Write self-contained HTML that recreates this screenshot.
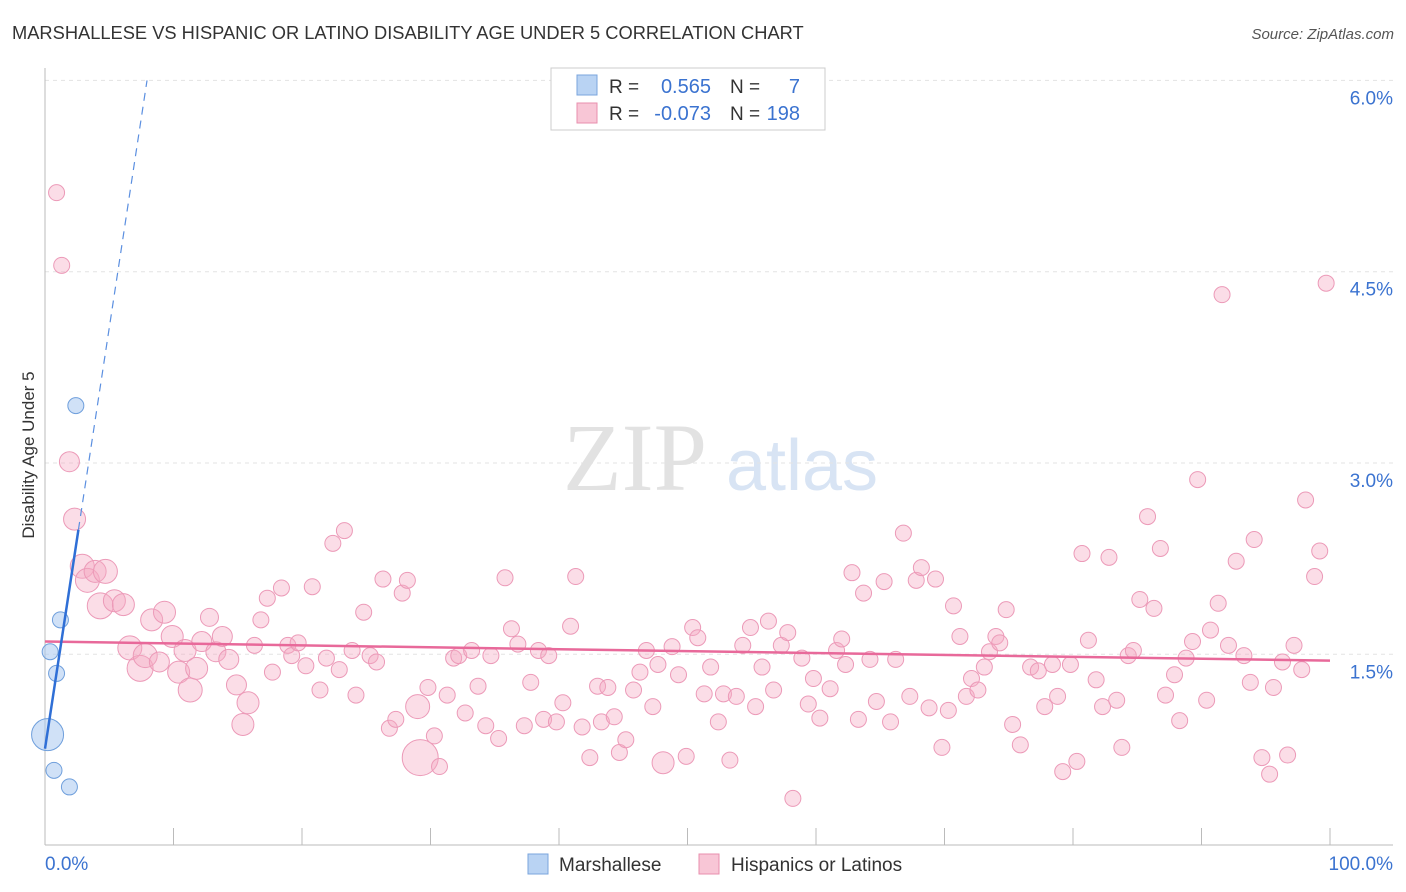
<!DOCTYPE html>
<html><head><meta charset="utf-8"><style>
body{margin:0;background:#fff;width:1406px;height:892px;overflow:hidden;font-family:"Liberation Sans",sans-serif;}
svg{display:block}
</style></head><body>
<svg id="chart" width="1406" height="892">
<text x="12" y="39" font-size="18.3" fill="#333">MARSHALLESE VS HISPANIC OR LATINO DISABILITY AGE UNDER 5 CORRELATION CHART</text>
<text x="1394" y="39" font-size="15" fill="#555" font-style="italic" text-anchor="end">Source: ZipAtlas.com</text>
<g>
<text x="635" y="490" font-family="Liberation Serif" font-size="96" fill="#e2e2e2" text-anchor="middle">ZIP</text>
<text x="802" y="490" font-size="72" fill="#d8e4f4" text-anchor="middle">atlas</text>
</g>
<g id="grid"></g>
<g id="axes"></g>
<g id="marks"></g>
<text transform="translate(34,455) rotate(-90)" font-size="17" fill="#333" text-anchor="middle">Disability Age Under 5</text>
<g>
<rect x="551" y="68" width="274" height="62" fill="#fff" stroke="#ccc"/>
<rect x="577" y="75" width="20" height="20" fill="#b9d3f3" stroke="#7aa5dd"/>
<rect x="577" y="103" width="20" height="20" fill="#f8c6d6" stroke="#e88fae"/>
<text x="609" y="93" font-size="19" fill="#333">R =</text><text x="711" y="93" font-size="20" fill="#3b73d0" text-anchor="end">0.565</text>
<text x="730" y="93" font-size="19" fill="#333">N =</text><text x="800" y="93" font-size="20" fill="#3b73d0" text-anchor="end">7</text>
<text x="609" y="120" font-size="19" fill="#333">R =</text><text x="711" y="120" font-size="20" fill="#3b73d0" text-anchor="end">-0.073</text>
<text x="730" y="120" font-size="19" fill="#333">N =</text><text x="800" y="120" font-size="20" fill="#3b73d0" text-anchor="end">198</text>
</g>
<g>
<rect x="528" y="854" width="20" height="20" fill="#b9d3f3" stroke="#7aa5dd"/>
<text x="559" y="871" font-size="19" fill="#333">Marshallese</text>
<rect x="699" y="854" width="20" height="20" fill="#f8c6d6" stroke="#e88fae"/>
<text x="731" y="871" font-size="19" fill="#333">Hispanics or Latinos</text>
</g>
</svg>
<script>
const yTicks=[1.5,3.0,4.5,6.0];
const yTickLabels=["1.5%","3.0%","4.5%","6.0%"];
const xTickLabels=["0.0%","100.0%"];
const blueX=[0.2,0.4,0.9,1.2,2.4,0.7,1.9];
const blueY=[0.87,1.52,1.35,1.77,3.45,0.59,0.46];
const blueR=[16,8,8,8,8,8,8];
const pinkX=[0.9,1.3,1.9,2.3,2.9,3.3,3.9,4.7,4.3,5.4,6.1,6.6,7.4,7.8,8.3,8.9,9.3,9.9,10.4,10.9,11.3,11.8,12.2,12.8,13.3,13.8,14.3,14.9,15.4,15.8,16.3,16.8,17.3,17.7,18.4,18.9,19.2,19.7,20.3,20.8,21.4,21.9,22.4,22.9,23.3,23.9,24.2,24.8,25.3,25.8,26.3,26.8,27.3,27.8,28.2,29.0,29.2,29.8,30.3,30.7,31.3,31.8,32.2,32.7,33.2,33.7,34.3,34.7,35.3,35.8,36.3,36.8,37.3,37.8,38.4,38.8,39.2,39.8,40.3,40.9,41.3,41.8,42.4,43.0,43.3,43.8,44.3,44.7,45.2,45.8,46.3,46.8,47.3,47.7,48.1,48.8,49.3,49.9,50.4,50.8,51.3,51.8,52.4,52.8,53.3,53.8,54.3,54.9,55.3,55.8,56.3,56.7,57.3,57.8,58.2,58.9,59.4,59.8,60.3,61.1,61.6,62.0,62.3,62.8,63.3,63.7,64.2,64.7,65.3,65.8,66.2,66.8,67.3,67.8,68.2,68.8,69.3,69.8,70.3,70.7,71.2,71.7,72.1,72.6,73.1,73.5,74.0,74.3,74.8,75.3,75.9,76.7,77.3,77.8,78.4,78.8,79.2,79.8,80.3,80.7,81.2,81.8,82.3,82.8,83.4,83.8,84.3,84.7,85.2,85.8,86.3,86.8,87.2,87.9,88.3,88.8,89.3,89.7,90.4,90.7,91.3,91.6,92.1,92.7,93.3,93.8,94.1,94.7,95.3,95.6,96.3,96.7,97.2,97.8,98.1,98.8,99.2,99.7];
const pinkY=[5.12,4.55,3.01,2.56,2.19,2.08,2.15,2.15,1.88,1.92,1.89,1.55,1.39,1.49,1.77,1.44,1.83,1.64,1.36,1.53,1.22,1.39,1.60,1.79,1.52,1.64,1.46,1.26,0.95,1.12,1.57,1.77,1.94,1.36,2.02,1.57,1.49,1.59,1.41,2.03,1.22,1.47,2.37,1.38,2.47,1.53,1.18,1.83,1.49,1.44,2.09,0.92,0.99,1.98,2.08,1.09,0.69,1.24,0.86,0.62,1.18,1.47,1.49,1.04,1.53,1.25,0.94,1.49,0.84,2.10,1.70,1.58,0.94,1.28,1.53,0.99,1.49,0.97,1.12,1.72,2.11,0.93,0.69,1.25,0.97,1.24,1.01,0.73,0.83,1.22,1.36,1.53,1.09,1.42,0.65,1.56,1.34,0.70,1.71,1.63,1.19,1.40,0.97,1.19,0.67,1.17,1.57,1.71,1.09,1.40,1.76,1.22,1.57,1.67,0.37,1.47,1.11,1.31,1.00,1.23,1.53,1.62,1.42,2.14,0.99,1.98,1.46,1.13,2.07,0.97,1.46,2.45,1.17,2.08,2.18,1.08,2.09,0.77,1.06,1.88,1.64,1.17,1.31,1.22,1.40,1.52,1.64,1.59,1.85,0.95,0.79,1.40,1.37,1.09,1.42,1.17,0.58,1.42,0.66,2.29,1.61,1.30,1.09,2.26,1.14,0.77,1.49,1.53,1.93,2.58,1.86,2.33,1.18,1.34,0.98,1.47,1.60,2.87,1.14,1.69,1.90,4.32,1.57,2.23,1.49,1.28,2.40,0.69,0.56,1.24,1.44,0.71,1.57,1.38,2.71,2.11,2.31,4.41];
const pinkBigR=[8,8,10,11,12,12,11,12,13,11,11,12,13,12,11,10,11,11,11,11,12,11,10,9,10,10,10,10,11,11];
const pinkLargeIdx=[55,56,94];
const pinkLargeR=[12,18,11];
const pinkTrend=[1.60,1.45];
const blueTrend=[0.76,0.66];
const NS='http://www.w3.org/2000/svg';
const X0=45,X1=1330,Y0=845.6,YS=127.53;
const sx=v=>X0+(X1-X0)*v/100;
const sy=v=>Y0-v*YS;
function mk(tag,attrs,parent){const e=document.createElementNS(NS,tag);for(const k in attrs)e.setAttribute(k,attrs[k]);parent.appendChild(e);return e;}
const grid=document.getElementById('grid'),axes=document.getElementById('axes'),marks=document.getElementById('marks');
yTicks.forEach((t,i)=>{
 const l=mk('line',{x1:45,x2:1393,y1:sy(t),y2:sy(t),stroke:'#e3e3e3','stroke-dasharray':'4,4'},grid);
 
 
 const tx=mk('text',{x:1393,y:sy(t)+24,'font-size':19,fill:'#3b73d0','text-anchor':'end'},grid);
 tx.textContent=yTickLabels[i];
 
 
});
const ya=mk('line',{x1:45,x2:45,y1:68,y2:845,stroke:'#bbb'},axes);


const xa=mk('line',{x1:45,x2:1393,y1:845,y2:845,stroke:'#bbb'},axes);


for(let k=0;k<=10;k++){
 const tk=mk('line',{x1:sx(k*10),x2:sx(k*10),y1:828,y2:845,stroke:'#bbb'},axes);
 
 
}
[[0,'start',45],[100,'end',1393]].forEach((d,i)=>{
 const t=mk('text',{x:d[2],y:870,'font-size':19,fill:'#3b73d0','text-anchor':d[1]},axes);
 t.textContent=xTickLabels[i];
 
 
});
pinkX.forEach((x,i)=>{
 let r=i<pinkBigR.length?pinkBigR[i]:8;
 const li=pinkLargeIdx.indexOf(i);
 if(li>=0) r=pinkLargeR[li];
 const c=mk('circle',{cx:sx(x),cy:sy(pinkY[i]),r:r,fill:'rgba(246,170,196,0.4)',stroke:'#ec9ab8','stroke-width':1},marks);
 
 
});
const pl=mk('line',{x1:sx(0),y1:sy(pinkTrend[0]),x2:sx(100),y2:sy(pinkTrend[1]),stroke:'#e8699a','stroke-width':2.5},marks);


blueX.forEach((x,i)=>{
 const c=mk('circle',{cx:sx(x),cy:sy(blueY[i]),r:blueR[i],fill:'rgba(170,200,240,0.55)',stroke:'#6f9fdc','stroke-width':1},marks);
 
 
});
const bEnd=2.6,bMax=(6.0-blueTrend[0])/blueTrend[1];
const bs=mk('line',{x1:sx(0),y1:sy(blueTrend[0]),x2:sx(bEnd),y2:sy(blueTrend[0]+blueTrend[1]*bEnd),stroke:'#2f6fd6','stroke-width':2.5},marks);


const bd=mk('line',{x1:sx(bEnd),y1:sy(blueTrend[0]+blueTrend[1]*bEnd),x2:sx(bMax),y2:sy(6.0),stroke:'#5b8fe0','stroke-width':1.2,'stroke-dasharray':'8,6'},marks);


</script>
</body></html>
